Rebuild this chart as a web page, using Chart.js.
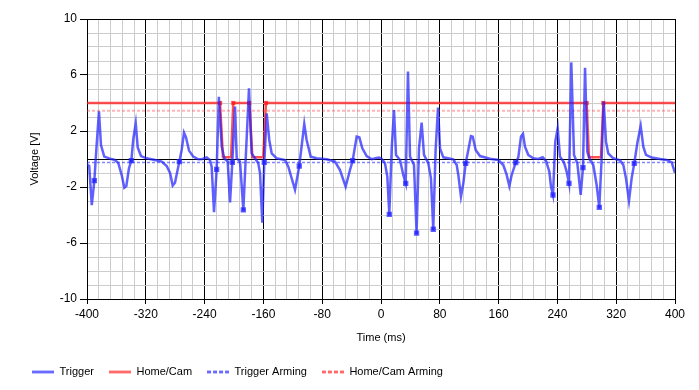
<!DOCTYPE html>
<html>
<head>
<meta charset="utf-8">
<script src="https://cdn.jsdelivr.net/npm/chart.js@4.4.1/dist/chart.umd.min.js"></script>
<style>
    body { margin: 0; background: #ffffff; }
    #wrap { width: 699px; height: 390px; }
</style>
</head>
<body>
<div id="wrap"><canvas id="Chart" width="699" height="390"></canvas></div>
<script>
'use strict';

// trigger signal, time (ms) and voltage (V)
let triggerTime = [
    -400, -397, -393.5, -390, -387, -383.7, -381, -376.5, -368.7, -362,
    -357.4, -352.8, -349.2, -346.5, -342.9, -339.7, -337, -333.7, -331, -326.5,
    -318.8, -307.5, -298.4, -291.6, -287, -283.4, -280.3, -274.4, -271.2, -268,
    -265.3, -261.2, -255.4, -248.6, -243, -237.1, -232.7, -230.4, -227.2, -223.6,
    -220.6, -216.7, -213.2, -208.6, -205.4, -202.3, -198.6, -196.3, -191.8, -187.3,
    -179.6, -176, -171.4, -167, -164.6, -161.5, -158.8, -155.5, -152, -148.7,
    -142, -130.6, -126.1, -117, -111.2, -104.4, -101.2, -95.6, -87.5, -73.9,
    -62.6, -55.8, -48.1, -42.2, -38.6, -35.4, -33.1, -29.5, -25.4, -19.5,
    -12.7, -5.9, -2.7, 0.9, 5.4, 8.6, 11.3, 14.6, 17.7, 20.4,
    25.9, 30.3, 33.6, 36.7, 39.5, 44.9, 48.4, 51.7, 55.3, 58.5,
    64.4, 68, 71.1, 74.3, 77.6, 80.3, 84.8, 98.4, 103, 105.2,
    108.8, 112, 115.2, 118.8, 122.4, 124.8, 128.8, 134.7, 148.3, 159.6,
    166.4, 171, 174.6, 177.8, 183.3, 186.8, 190.5, 193.2, 195.9, 200.4,
    207.2, 214, 220, 224.5, 229, 231.3, 234, 237.1, 240.4, 243.5,
    248.9, 252.6, 255.8, 258.9, 262.6, 267.1, 271.7, 274.8, 277.6, 280.7,
    284.4, 288.8, 293.4, 297, 300.2, 303, 306.1, 309.2, 316, 325.2,
    329.7, 333.3, 337.4, 341, 344.6, 348.7, 353.3, 356.9, 360.5, 368.3,
    379.6, 388.7, 395.5, 400
];
let triggerVolt = [
    -0.4, -0.5, -3.3, -1.55, 0.9, 3.4, 1.0, 0.17, 0.03, -0.07,
    -0.3, -1.15, -2.05, -1.93, -0.67, -0.12, 1.43, 2.55, 0.83, 0.21,
    0.05, -0.07, -0.19, -0.5, -1.0, -1.9, -1.7, -0.19, 0.64, 1.88,
    1.55, 0.6, 0.17, -0.02, 0, 0.12, -0.07, -0.55, -3.8, -0.74,
    4.45, 0.88, 0.05, -0.19, -3.1, -0.24, 3.74, 0.05, -0.19, -3.64,
    5.05, 0.4, 0.05, -0.3, -1.0, -4.55, -0.24, 3.26, 1.36, 0.4,
    0.05, -0.07, -0.55, -2.2, -0.5, 2.5, 1.36, 0.17, 0.05, -0.02,
    -0.19, -0.79, -1.98, -0.79, -0.12, 0.88, 1.6, 1.55, 0.76, 0.21,
    -0.02, 0.07, 0.1, 0.02, -0.3, -1.26, -3.95, 0.76, 3.5, 0.29,
    -0.07, -1.14, -1.74, 6.24, 0.17, -0.43, -5.3, 0.76, 2.6, 0.29,
    -0.31, -1.38, -5.02, 0.64, 3.67, 0.76, 0.12, -0.02, -0.43, -1.14,
    -2.69, -1.74, -0.31, 0.64, 1.64, 1.6, 0.64, 0.21, 0.02, -0.07,
    -0.43, -1.14, -1.93, -1.14, -0.26, 0.12, 1.6, 1.79, 0.88, 0.29,
    0.05, 0, 0.12, -0.14, -0.9, -1.98, -2.57, 1.24, 2.19, 0.17,
    -0.24, -0.9, -1.74, 6.9, 0.29, -0.31, -2.57, -0.62, 6.52, 0.52,
    -0.07, -0.43, -1.86, -3.45, 0.05, 4.1, 1.24, 0.4, 0.05, -0.1,
    -0.43, -1.38, -2.98, -1.38, -0.31, 1.12, 2.36, 0.88, 0.29, 0.1,
    0, -0.07, -0.24, -1.0
];
// samples of the trigger drawn with a marker
let triggerMarks = [-390, -339.7, -274.4, -223.6, -202.3, -187.3, -158.8, -111.2, -38.6,
    11.3, 33.6, 48.4, 71.1, 115.2, 183.3, 234, 255.8, 274.8, 297, 344.6];

// home/cam signal
let homeTime = [-400, -219, -215, -204, -201, -179.2, -175, -160.2, -156.5, 279.8, 283, 299.3, 302.5, 400];
let homeVolt = [4, 4, 0.12, 0.12, 4, 4, 0.12, 0.12, 4, 4, 0.12, 0.12, 4, 4];

// arming levels
let triggerArming = -0.25;
let homeArming = 3.45;

let xMin = -400, xMax = 400, xStep = 16, xLabelStep = 80;
let yMin = -10, yMax = 10, yStep = 1;
let yLabels = [-10, -6, -2, 2, 6, 10];

let fontName = "'Liberation Sans', Arial, sans-serif";

function points(xs, ys) {
    let out = [];
    for (let i = 0; i < xs.length; i++) {
        out.push({ x: xs[i], y: ys[i] });
    }
    return out;
}

function flat(level) {
    return [{ x: xMin, y: level }, { x: xMax, y: level }];
}

function isXLabel(v) {
    return Math.round(v) % xLabelStep === 0;
}

function isYLabel(v) {
    return yLabels.includes(Math.round(v));
}

// small picture of a line for the legend (the built in one ignores dashes)
function legendLine(color, dash) {
    let c = document.createElement('canvas');
    c.width = 22;
    c.height = 5;
    let g = c.getContext('2d');
    g.strokeStyle = color;
    g.lineWidth = 2.5;
    g.setLineDash(dash);
    g.beginPath();
    g.moveTo(0, 2.5);
    g.lineTo(22, 2.5);
    g.stroke();
    return c;
}

let ctx = document.getElementById('Chart').getContext('2d');
let chart = new Chart(ctx, {
    type: 'line',
    data: {
        datasets: [{
            label: 'Trigger',
            data: points(triggerTime, triggerVolt),
            borderColor: 'rgba(35,35,255,0.72)',
            backgroundColor: 'rgba(35,35,255,0.72)',
            borderWidth: 2.5,
            pointStyle: 'rect',
            pointRadius: c => (c.raw && triggerMarks.includes(c.raw.x)) ? 2 : 0,
            tension: 0,
            order: 1
        }, {
            label: 'Home/Cam',
            data: points(homeTime, homeVolt),
            borderColor: 'rgba(255,25,25,0.75)',
            backgroundColor: 'rgba(255,25,25,0.75)',
            borderWidth: 2.5,
            pointStyle: 'rect',
            pointRadius: c => (c.raw && c.raw.y === 4 && c.raw.x > xMin && c.raw.x < xMax) ? 1.2 : 0,
            tension: 0,
            order: 2
        }, {
            label: 'Trigger Arming',
            data: flat(triggerArming),
            borderColor: 'rgba(50,50,255,0.6)',
            borderWidth: 1.5,
            borderDash: [3, 2],
            pointRadius: 0,
            order: 3
        }, {
            label: 'Home/Cam Arming',
            data: flat(homeArming),
            borderColor: 'rgba(255,70,70,0.4)',
            borderWidth: 2,
            borderDash: [3, 2],
            pointRadius: 0,
            order: 4
        }]
    },
    options: {
        responsive: false,
        animation: false,
        devicePixelRatio: 1,
        layout: { padding: { left: 17, right: 24, top: 19, bottom: 2.5 } },
        plugins: {
            tooltip: { enabled: false },
            legend: {
                position: 'bottom',
                align: 'start',
                labels: {
                    usePointStyle: true,
                    pointStyleWidth: 22,
                    padding: 15,
                    color: '#000000',
                    font: { family: fontName, size: 11 },
                    generateLabels: function(ch) {
                        let items = Chart.defaults.plugins.legend.labels.generateLabels(ch);
                        let looks = [
                            ['#5555ff', []],
                            ['#ff5555', []],
                            ['#5555ff', [4, 2]],
                            ['#ff5555', [4, 2]]
                        ];
                        items.forEach((it, i) => {
                            it.pointStyle = legendLine(looks[i][0], looks[i][1]);
                        });
                        return items;
                    }
                }
            }
        },
        scales: {
            x: {
                type: 'linear',
                min: xMin,
                max: xMax,
                afterFit: s => { s.height = 52.5; },
                ticks: {
                    stepSize: xStep,
                    autoSkip: false,
                    maxRotation: 0,
                    padding: 3,
                    color: '#000000',
                    font: { family: fontName, size: 12 },
                    callback: v => isXLabel(v) ? String(Math.round(v)) : ''
                },
                grid: {
                    color: c => isXLabel(c.tick.value) ? '#000000' : '#cccccc',
                    tickColor: c => isXLabel(c.tick.value) ? '#000000' : 'rgba(0,0,0,0)',
                    tickLength: 5,
                    lineWidth: 1
                },
                border: { color: '#000000' },
                title: {
                    display: true,
                    text: 'Time (ms)',
                    color: '#000000',
                    font: { family: fontName, size: 11 },
                    padding: { top: 2, bottom: 6.6 }
                }
            },
            y: {
                min: yMin,
                max: yMax,
                afterFit: s => { s.width = 70; },
                ticks: {
                    stepSize: yStep,
                    autoSkip: false,
                    padding: 3,
                    color: '#000000',
                    font: { family: fontName, size: 12 },
                    callback: v => isYLabel(v) ? String(Math.round(v)) : ''
                },
                grid: {
                    color: c => Math.round(c.tick.value) % 10 === 0 ? '#000000' : '#cccccc',
                    tickColor: c => isYLabel(c.tick.value) ? '#000000' : 'rgba(0,0,0,0)',
                    tickLength: 7,
                    lineWidth: 1
                },
                border: { color: '#000000' },
                title: {
                    display: true,
                    text: 'Voltage [V]',
                    color: '#000000',
                    font: { family: fontName, size: 11 },
                    padding: { top: 11, bottom: 2 }
                }
            }
        }
    }
});
</script>
</body>
</html>
